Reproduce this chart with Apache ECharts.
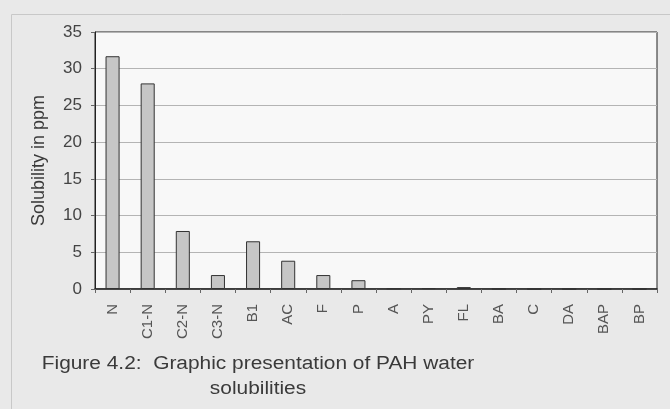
<!DOCTYPE html>
<html>
<head>
<meta charset="utf-8">
<script src="https://cdn.jsdelivr.net/npm/echarts@6/dist/echarts.min.js"></script>
<style>
html,body{margin:0;padding:0;background:#e9e9e9;}
#chart{width:670px;height:409px;}
</style>
</head>
<body>
<div id="chart"></div>
<script>
const categories = ['N','C1-N','C2-N','C3-N','B1','AC','F','P','A','PY','FL','BA','C','DA','BAP','BP'];
const solubility = [31.7, 28.0, 7.9, 1.9, 6.5, 3.85, 1.9, 1.2, 0.07, 0.13, 0.26, 0.01, 0.002, 0.0005, 0.004, 0.0003];
const yTicks = [0, 5, 10, 15, 20, 25, 30, 35];
const yTitle = 'Solubility in ppm';
const captionLine1 = 'Figure 4.2:  Graphic presentation of PAH water';
const captionLine2 = 'solubilities';

const FONT = '"Liberation Sans", Arial, sans-serif';
const chart = echarts.init(document.getElementById('chart'), null, {renderer: 'canvas'});
chart.setOption({
  backgroundColor: '#e9e9e9',
  animation: false,
  grid: {
    left: 95, right: 13, top: 32, bottom: 120,
    show: true, backgroundColor: '#f8f8f8', borderColor: '#222', borderWidth: 1
  },
  graphic: [
    {type: 'rect', left: 9, top: 12, shape: {width: 670, height: 420},
     style: {fill: 'none', stroke: '#c8c8c8', lineWidth: 1}, z: -1},
    {type: 'text', x: 258, y: 355, scaleX: 1.16,
     style: {text: captionLine1, textAlign: 'center', textVerticalAlign: 'top', fill: '#3a3a3a', font: '18px ' + FONT}},
    {type: 'text', x: 258, y: 380, scaleX: 1.16,
     style: {text: captionLine2, textAlign: 'center', textVerticalAlign: 'top', fill: '#3a3a3a', font: '18px ' + FONT}}
  ],
  xAxis: {
    type: 'category',
    data: categories,
    axisLine: {lineStyle: {color: '#222', width: 1.5}},
    axisTick: {show: true, alignWithLabel: false, length: 4, lineStyle: {color: '#666'}},
    axisLabel: {rotate: 90, color: '#555', fontSize: 15, margin: 15, fontFamily: FONT}
  },
  yAxis: {
    type: 'value',
    min: yTicks[0], max: yTicks[yTicks.length - 1], interval: 5,
    name: yTitle, nameLocation: 'middle', nameGap: 47, nameRotate: 90,
    nameTextStyle: {color: '#3a3a3a', fontSize: 18, fontFamily: FONT},
    axisLine: {show: true, lineStyle: {color: '#222'}},
    axisTick: {show: true, length: 4, lineStyle: {color: '#666'}},
    axisLabel: {color: '#444', fontSize: 17, margin: 13, fontFamily: FONT},
    splitLine: {show: true, lineStyle: {color: '#b4b4b4', width: 1}}
  },
  series: [{
    type: 'bar',
    data: solubility,
    barWidth: '40%',
    itemStyle: {color: '#c6c6c6', borderColor: '#333', borderWidth: 1}
  }]
});
</script>
</body>
</html>
